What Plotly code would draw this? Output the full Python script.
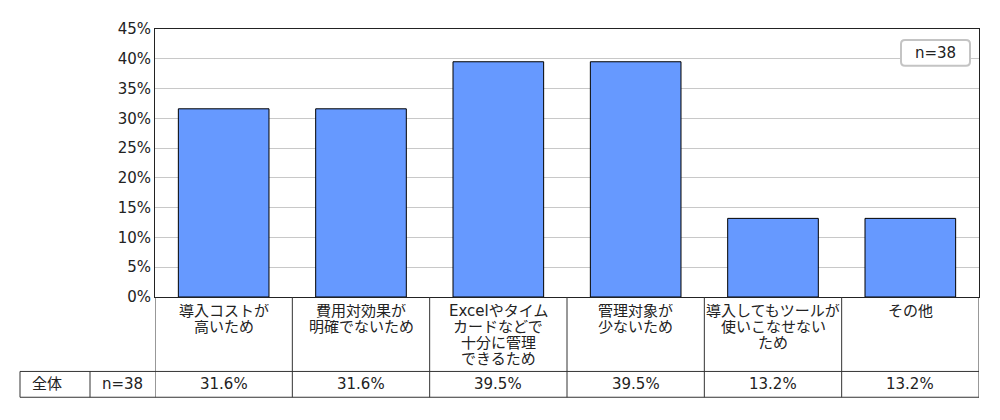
import plotly.graph_objects as go

# Data
categories = [
    "導入コストが\n高いため",
    "費用対効果が\n明確でないため",
    "Excelやタイム\nカードなどで\n十分に管理\nできるため",
    "管理対象が\n少ないため",
    "導入してもツールが\n使いこなせない\nため",
    "その他",
]
values = [31.6, 31.6, 39.5, 39.5, 13.2, 13.2]
row_label = "全体"
sample_label = "n=38"

font_family = "DejaVu Sans, Noto Sans CJK JP, sans-serif"
text_color = "#222222"
line_color = "#333333"
fsize = 15

# Page geometry in screen pixels; the browser body adds an 8px margin
OFF = 8
W, H = 1000 - 2 * OFF, 420 - 2 * OFF
plot_left, plot_right = 155 - OFF, 979 - OFF
plot_top, plot_bottom = 27 - OFF, 297 - OFF
row1_bottom, row2_bottom = 372 - OFF, 398 - OFF
table_left, n_col = 20 - OFF, 90 - OFF


def py(pix):
    # figure pixel y -> paper y
    return (plot_bottom - pix) / (plot_bottom - plot_top)


def px_(pix):
    # figure pixel x -> paper x
    return (pix - plot_left) / (plot_right - plot_left)


def txt(x, y, text, xref="paper", height=None):
    return dict(x=x, y=y, xref=xref, yref="paper", text=text, showarrow=False,
                xanchor="center", yanchor="middle", height=height, borderpad=0,
                font=dict(size=fsize, color=text_color))


xs = list(range(len(categories)))

fig = go.Figure()
fig.add_trace(go.Bar(
    x=xs, y=values, width=0.66,
    marker=dict(color="#6699ff", line=dict(color="#000000", width=1)),
    hoverinfo="skip",
))

shapes = []
annotations = []
thin = dict(color=line_color, width=1)

# Table horizontal lines
shapes.append(dict(type="line", xref="paper", yref="paper", x0=px_(table_left), x1=1,
                   y0=py(row1_bottom), y1=py(row1_bottom), line=thin))
shapes.append(dict(type="line", xref="paper", yref="paper", x0=px_(table_left), x1=1,
                   y0=py(row2_bottom), y1=py(row2_bottom), line=thin))

# Table vertical lines
for i in range(len(categories) + 1):
    shapes.append(dict(type="line", xref="x", yref="paper", x0=i - 0.5, x1=i - 0.5,
                       y0=0, y1=py(row2_bottom), line=thin))
for xx in [table_left, n_col]:
    shapes.append(dict(type="line", xref="paper", yref="paper", x0=px_(xx), x1=px_(xx),
                       y0=py(row1_bottom), y1=py(row2_bottom), line=thin))

# Category labels (one annotation per line for tight line spacing) and values
line_step = 16
value_y = py((row1_bottom + row2_bottom) / 2)
for i, (cat, v) in enumerate(zip(categories, values)):
    for k, part in enumerate(cat.split("\n")):
        annotations.append(txt(i, py(plot_bottom + 14 + k * line_step), part,
                               xref="x", height=14))
    annotations.append(txt(i, value_y, f"{v:.1f}%", xref="x"))

annotations.append(txt(px_(47 - OFF), value_y, row_label))
annotations.append(txt(px_((n_col + plot_left) / 2), value_y, sample_label))

# Rounded n=38 box in the top right corner
bx0, bx1, by0, by1 = px_(901 - OFF), px_(970 - OFF), py(38 - OFF), py(64 - OFF)
rx = 4 / (plot_right - plot_left)
ry = 4 / (plot_bottom - plot_top)
path = (f"M {bx0 + rx},{by0} L {bx1 - rx},{by0} Q {bx1},{by0} {bx1},{by0 - ry} "
        f"L {bx1},{by1 + ry} Q {bx1},{by1} {bx1 - rx},{by1} "
        f"L {bx0 + rx},{by1} Q {bx0},{by1} {bx0},{by1 + ry} "
        f"L {bx0},{by0 - ry} Q {bx0},{by0} {bx0 + rx},{by0} Z")
shapes.append(dict(type="path", xref="paper", yref="paper", path=path,
                   line=dict(color="#c4c4c4", width=2), fillcolor="white"))
annotations.append(txt((bx0 + bx1) / 2, py(51.5 - OFF), sample_label))

fig.update_layout(
    width=W, height=H,
    margin=dict(l=plot_left, r=W - plot_right, t=plot_top, b=H - plot_bottom, pad=0),
    plot_bgcolor="white", paper_bgcolor="white",
    font=dict(family=font_family, size=fsize, color=text_color),
    showlegend=False,
    shapes=shapes,
    annotations=annotations,
    xaxis=dict(range=[-0.5, len(categories) - 0.5], showticklabels=False,
               showgrid=False, zeroline=False, showline=True, mirror=True,
               linecolor="#222", linewidth=1, fixedrange=True),
    yaxis=dict(range=[0, 45], dtick=5, ticksuffix="%", showgrid=True,
               gridcolor="#c8c8c8", zeroline=False, showline=True, mirror=True,
               linecolor="#222", linewidth=1, ticks="", ticklen=0,
               tickfont=dict(size=fsize, color=text_color), fixedrange=True),
)

fig.write_html("out.html")
